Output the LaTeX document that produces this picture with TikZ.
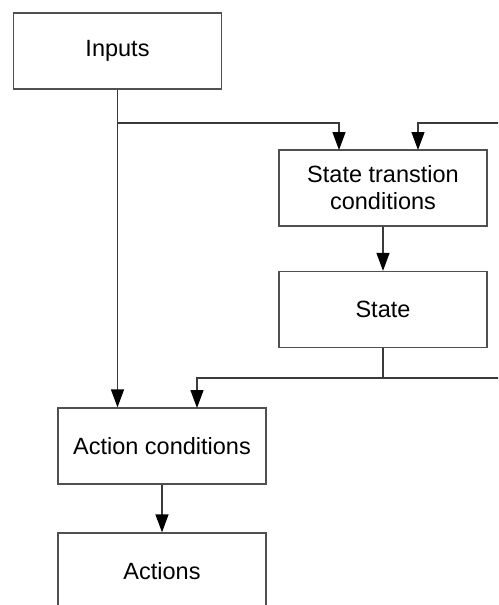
\documentclass[tikz,border=0pt]{standalone}
\usepackage{fontspec}
\setmainfont{Liberation Sans}
\usetikzlibrary{arrows.meta}
\definecolor{linec}{HTML}{3A3A3A}
\definecolor{boxc}{HTML}{505050}
\tikzset{
  box/.style={draw=boxc, line width=1.3pt, rectangle, minimum width=208pt, minimum height=76pt,
    inner sep=0pt, align=center, font=\fontsize{23.5}{27}\selectfont, text=black},
  conn/.style={draw=linec, line width=1.3pt},
  arr/.style={conn, -{Triangle[width=13pt,length=18pt,color=black]}}
}
\begin{document}
\begin{tikzpicture}[x=1pt,y=-1pt]
\useasboundingbox (0,0) rectangle (498,605);
\clip (0,0) rectangle (498,605);
\node[box] (in) at (117.5,51) {Inputs};
\node[box] (stc) at (383,188) {State transtion\\conditions};
\node[box] (st) at (383,309.5) {State};
\node[box] (ac) at (162,446) {Action conditions};
\node[box] (act) at (162,571) {Actions};
\coordinate (j1) at (117.5,123);
\coordinate (rin) at (500,123);
\coordinate (j2) at (383,378);
\coordinate (rout) at (500,378);
\coordinate (stcA) at (339,150);
\coordinate (stcB) at (418,150);
\coordinate (acB) at (197,408);
% inputs down to action conditions
\draw[arr] (in.south) -- (in.south |- ac.north);
% branch to state transition
\draw[arr] (j1) -| (stcA);
% feedback from right into state transition
\draw[arr] (rin) -| (stcB);
\draw[arr] (stc.south) -- (st.north);
\draw[conn] (st.south) -- (j2);
\draw[arr] (rout) -| (acB);
\draw[arr] (ac.south) -- (act.north);
\end{tikzpicture}
\end{document}
